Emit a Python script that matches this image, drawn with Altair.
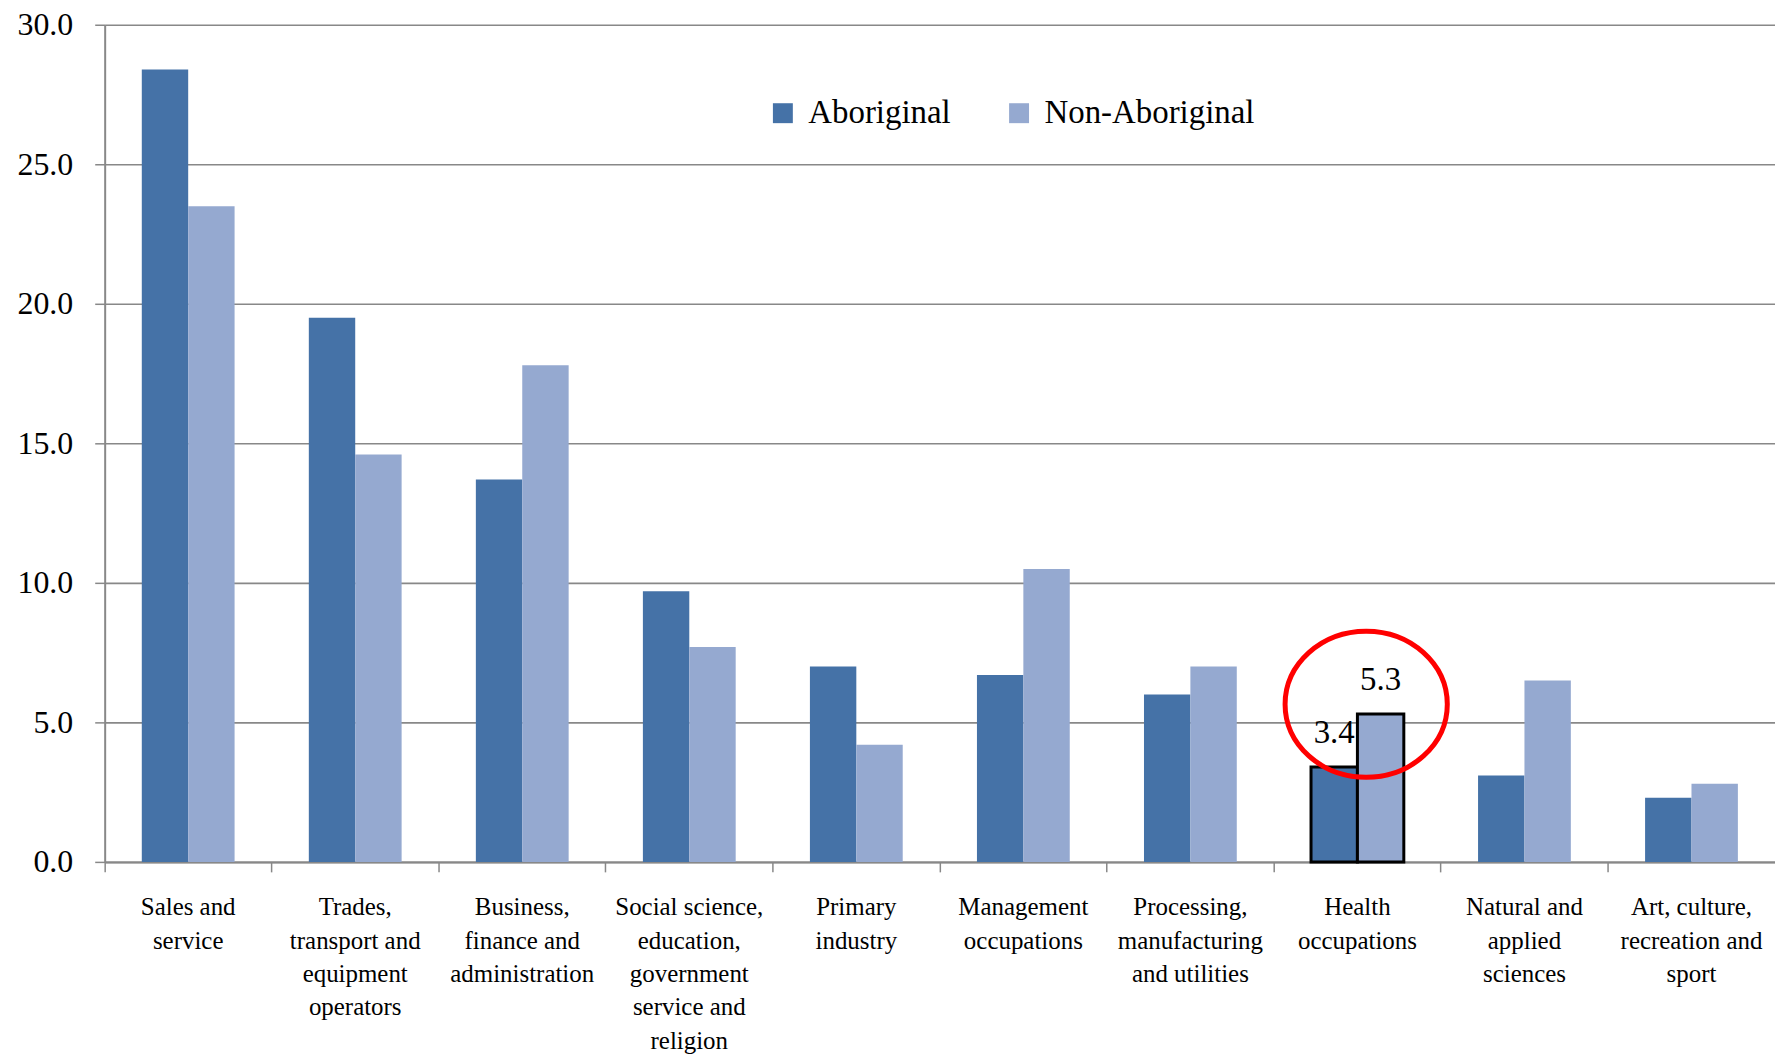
import altair as alt
import pandas as pd

categories = [
    "Sales and\nservice",
    "Trades,\ntransport and\nequipment\noperators",
    "Business,\nfinance and\nadministration",
    "Social science,\neducation,\ngovernment\nservice and\nreligion",
    "Primary\nindustry",
    "Management\noccupations",
    "Processing,\nmanufacturing\nand utilities",
    "Health\noccupations",
    "Natural and\napplied\nsciences",
    "Art, culture,\nrecreation and\nsport",
]
groups = ["Aboriginal", "Non-Aboriginal"]
aboriginal = [28.4, 19.5, 13.7, 9.7, 7.0, 6.7, 6.0, 3.4, 3.1, 2.3]
non_aboriginal = [23.5, 14.6, 17.8, 7.7, 4.2, 10.5, 7.0, 5.3, 6.5, 2.8]
highlight = "Health\noccupations"
y_ticks = [0, 5, 10, 15, 20, 25, 30]
colors = ["#4572A7", "#95A9D0"]

rows = []
for c, a, n in zip(categories, aboriginal, non_aboriginal):
    rows.append({"category": c, "group": groups[0], "value": a, "hl": c == highlight})
    rows.append({"category": c, "group": groups[1], "value": n, "hl": c == highlight})
df = pd.DataFrame(rows)
df["label"] = df["value"].map(lambda v: f"{v:.1f}")
hl_df = df[df["hl"]].copy()
ell_df = pd.DataFrame({"category": [highlight], "value": [5.65]})

W = 1676
FONT = "Liberation Serif"

x_enc = alt.X(
    "category:N",
    sort=categories,
    scale=alt.Scale(paddingInner=0, paddingOuter=0),
    axis=alt.Axis(
        title=None,
        labelAngle=0,
        bandPosition=0,
        labelExpr="split(datum.label, '\\n')",
        labelFont=FONT,
        labelFontSize=25,
        labelLineHeight=33.5,
        labelColor="black",
        labelPadding=23,
        labelBaseline="top",
        labelLimit=300,
        tickSize=10,
        tickColor="#888888",
        tickWidth=1.5,
        domainColor="#888888",
        domainWidth=2,
        grid=False,
    ),
)
xo_enc = alt.XOffset("group:N", sort=groups, scale=alt.Scale(paddingInner=0, paddingOuter=0.8))
y_enc = alt.Y(
    "value:Q",
    scale=alt.Scale(domain=[0, 30], nice=False),
    axis=alt.Axis(
        title=None,
        values=y_ticks,
        format=".1f",
        labelFont=FONT,
        labelFontSize=32,
        labelColor="black",
        labelPadding=22,
        tickSize=10,
        tickColor="#888888",
        tickWidth=1.5,
        domainColor="#888888",
        domainWidth=2,
        grid=True,
        gridColor="#888888",
        gridWidth=1.6,
    ),
)

bars = alt.Chart(df).mark_bar().encode(
    x=x_enc,
    xOffset=xo_enc,
    y=y_enc,
    color=alt.Color(
        "group:N",
        sort=groups,
        scale=alt.Scale(domain=groups, range=colors),
        legend=alt.Legend(
            title=None,
            orient="none",
            legendX=664,
            legendY=72,
            direction="horizontal",
            symbolType="square",
            symbolSize=400,
            symbolStrokeWidth=0,
            symbolOpacity=1,
            labelFont=FONT,
            labelFontSize=33,
            labelColor="black",
            labelOffset=9,
            labelLimit=400,
            columnPadding=52,
        ),
    ),
    stroke=alt.condition("datum.hl", alt.value("black"), alt.value("transparent")),
    strokeWidth=alt.condition("datum.hl", alt.value(3), alt.value(0)),
)

labels = alt.Chart(hl_df).mark_text(
    font=FONT, fontSize=33, color="black", baseline="alphabetic", dy=-24
).encode(
    x=alt.X("category:N", sort=categories),
    xOffset=alt.XOffset("group:N", sort=groups),
    y=alt.Y("value:Q"),
    text="label:N",
)

ellipse_path = "M -0.99 0 A 1.11 1 0 1 0 1.23 0 A 1.11 1 0 1 0 -0.99 0 Z"
ellipse = alt.Chart(ell_df).mark_point(
    shape=ellipse_path, size=21500, filled=False, stroke="#FF0000", strokeWidth=5, opacity=1
).encode(
    x=alt.X("category:N", sort=categories),
    y=alt.Y("value:Q"),
)

chart = (
    alt.layer(bars, labels, ellipse)
    .properties(
        width=W,
        height=840,
        autosize=alt.AutoSizeParams(type="none"),
        padding={"left": 97, "top": 15, "right": 0, "bottom": 205},
    )
    .configure_view(stroke=None)
)

chart.save("out.html", embed_options={"renderer": "svg", "actions": False})
